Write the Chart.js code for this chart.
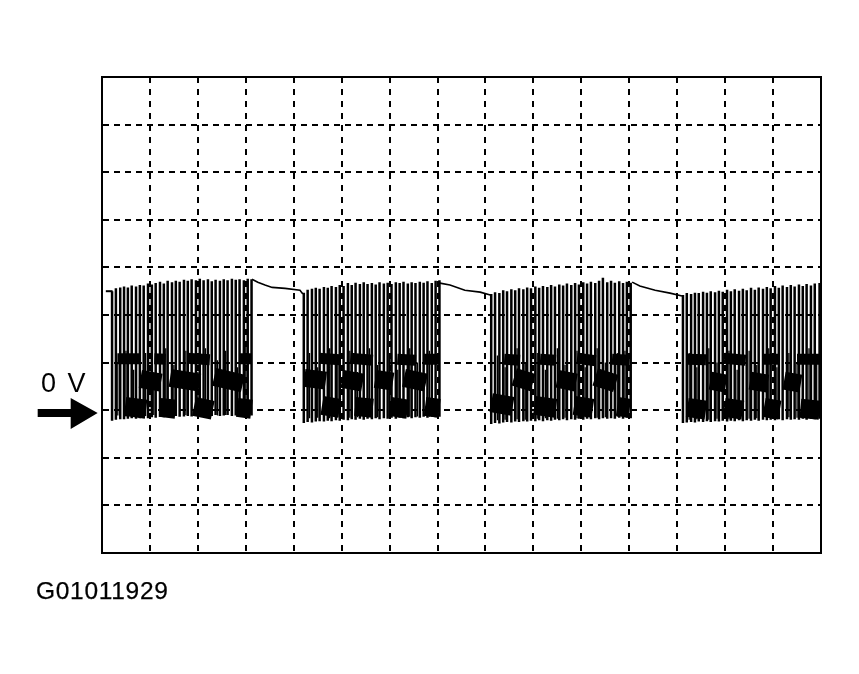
<!DOCTYPE html>
<html><head><meta charset="utf-8">
<style>
html,body{margin:0;padding:0;background:#fff;overflow:hidden}
#wrap{position:relative;width:859px;height:674px}
canvas{position:absolute;left:0;top:0}
.lbl{position:absolute;font-family:"Liberation Sans",Arial,sans-serif;color:#000;white-space:nowrap;line-height:1}
</style>
<script src="https://cdn.jsdelivr.net/npm/chart.js@4"></script>
</head><body>
<div id="wrap">
<canvas id="c" width="859" height="674"></canvas>
<div class="lbl" style="left:41px;top:370px;font-size:27px;letter-spacing:2px">0 V</div>
<div class="lbl" style="left:36px;top:579px;font-size:24.5px;letter-spacing:.7px;-webkit-text-stroke:.25px #000">G01011929</div>
</div>
<script>
// Time in screen divisions, level in volts (1 V per division)
const burst1Time=[0.21,0.29,0.38,0.46,0.54,0.62,0.71,0.79,0.87,0.96,1.04,1.12,1.21,1.29,1.37,1.46,1.54,1.62,1.71,1.79,1.87,1.96,2.04,2.12,2.21,2.29,2.37,2.46,2.54,2.62,2.71,2.79,2.87,2.96,3.04,3.12];
const burst1Top=[2.50,2.56,2.58,2.60,2.58,2.62,2.60,2.63,2.62,2.66,2.64,2.67,2.70,2.66,2.72,2.69,2.72,2.70,2.74,2.72,2.75,2.73,2.76,2.73,2.75,2.71,2.74,2.72,2.75,2.73,2.76,2.74,2.75,2.73,2.76,2.75];
const burst1Low=[-0.22,-0.20,-0.19,-0.19,-0.18,-0.17,-0.18,-0.17,-0.16,-0.17,-0.15,-0.16,-0.14,-0.15,-0.13,-0.14,-0.12,-0.14,-0.13,-0.12,-0.13,-0.11,-0.13,-0.12,-0.11,-0.12,-0.10,-0.12,-0.11,-0.10,-0.12,-0.11,-0.10,-0.11,-0.10,-0.11];
const burst2Time=[4.21,4.29,4.38,4.46,4.54,4.63,4.71,4.79,4.88,4.96,5.04,5.13,5.21,5.29,5.38,5.46,5.54,5.63,5.71,5.79,5.88,5.96,6.04,6.13,6.21,6.29,6.38,6.46,6.54,6.63,6.71,6.79,6.88,6.96,7.04];
const burst2Top=[2.47,2.53,2.55,2.57,2.55,2.59,2.57,2.61,2.59,2.63,2.61,2.67,2.63,2.68,2.65,2.69,2.65,2.67,2.64,2.69,2.66,2.68,2.65,2.69,2.67,2.70,2.66,2.69,2.67,2.70,2.68,2.71,2.67,2.72,2.73];
const burst2Low=[-0.27,-0.25,-0.26,-0.24,-0.23,-0.24,-0.22,-0.23,-0.21,-0.22,-0.20,-0.21,-0.19,-0.20,-0.18,-0.20,-0.18,-0.19,-0.17,-0.19,-0.17,-0.18,-0.16,-0.18,-0.16,-0.17,-0.15,-0.17,-0.15,-0.16,-0.14,-0.16,-0.14,-0.15,-0.14];
const burst3Time=[8.12,8.20,8.29,8.37,8.45,8.54,8.62,8.70,8.79,8.87,8.95,9.04,9.12,9.20,9.29,9.37,9.45,9.54,9.62,9.70,9.79,9.87,9.95,10.04,10.12,10.20,10.29,10.37,10.45,10.54,10.62,10.70,10.79,10.87,10.95,11.03];
const burst3Top=[2.44,2.48,2.46,2.52,2.50,2.54,2.52,2.56,2.54,2.58,2.56,2.60,2.57,2.61,2.59,2.63,2.60,2.64,2.62,2.66,2.63,2.67,2.64,2.69,2.66,2.70,2.67,2.72,2.78,2.69,2.72,2.68,2.71,2.67,2.70,2.68];
const burst3Low=[-0.29,-0.27,-0.28,-0.26,-0.25,-0.26,-0.24,-0.25,-0.23,-0.24,-0.22,-0.23,-0.21,-0.23,-0.21,-0.22,-0.20,-0.21,-0.19,-0.21,-0.19,-0.20,-0.18,-0.20,-0.18,-0.19,-0.17,-0.19,-0.17,-0.18,-0.17,-0.18,-0.16,-0.18,-0.16,-0.17];
const burst4Time=[12.12,12.20,12.29,12.37,12.45,12.54,12.62,12.70,12.79,12.87,12.95,13.04,13.12,13.20,13.29,13.37,13.45,13.54,13.62,13.70,13.79,13.87,13.95,14.04,14.12,14.20,14.29,14.37,14.45,14.54,14.62,14.70,14.79,14.87,14.97];
const burst4Top=[2.42,2.46,2.44,2.47,2.46,2.49,2.47,2.50,2.48,2.51,2.49,2.53,2.50,2.54,2.51,2.55,2.52,2.57,2.53,2.58,2.55,2.59,2.56,2.61,2.57,2.62,2.59,2.63,2.60,2.64,2.61,2.65,2.62,2.66,2.67];
const burst4Low=[-0.27,-0.26,-0.25,-0.26,-0.24,-0.25,-0.23,-0.25,-0.23,-0.24,-0.22,-0.24,-0.22,-0.23,-0.21,-0.23,-0.21,-0.22,-0.20,-0.22,-0.20,-0.21,-0.20,-0.21,-0.19,-0.21,-0.19,-0.20,-0.19,-0.20,-0.18,-0.20,-0.18,-0.19,-0.18];
// shorter inner strokes that darken the lower half of each burst
const innerTime=[0.33,0.50,0.66,0.91,1.08,1.33,1.50,1.75,2.00,2.16,2.41,2.58,2.83,3.00,4.33,4.50,4.75,4.92,5.17,5.33,5.58,5.75,6.00,6.17,6.42,6.58,6.83,8.25,8.41,8.66,8.83,9.08,9.25,9.50,9.66,9.91,10.08,10.33,10.50,10.75,10.91,12.25,12.41,12.66,12.83,13.08,13.25,13.50,13.66,13.91,14.08,14.33,14.50,14.75,14.91];
const innerTop=[1.00,1.25,0.85,1.20,0.70,1.30,0.95,1.25,0.80,1.30,1.05,1.25,0.90,1.35,1.20,0.90,1.30,1.00,1.25,0.80,1.30,0.95,1.20,0.85,1.30,1.00,1.25,1.15,0.90,1.30,1.00,1.20,0.85,1.30,0.95,1.25,0.90,1.30,1.00,1.20,1.25,1.20,0.90,1.30,1.00,1.25,0.85,1.25,0.95,1.30,0.90,1.20,1.00,1.30,1.15];
const innerFloor=[-0.11,-0.13,-0.11,-0.12,-0.10,-0.11,-0.12,-0.10,-0.11,-0.10,-0.11,-0.10,-0.11,-0.10,-0.17,-0.16,-0.17,-0.15,-0.16,-0.15,-0.14,-0.15,-0.14,-0.15,-0.14,-0.13,-0.14,-0.21,-0.20,-0.19,-0.20,-0.18,-0.17,-0.18,-0.16,-0.17,-0.15,-0.16,-0.15,-0.14,-0.15,-0.20,-0.19,-0.20,-0.18,-0.19,-0.17,-0.18,-0.17,-0.16,-0.17,-0.15,-0.16,-0.15,-0.16];
const leadTime=[0.08,0.22];
const leadLevel=[2.50,2.50];
const decayTime=[3.13,3.25,3.40,3.55,3.82,4.13,4.19,4.19,7.05,7.26,7.57,7.89,8.10,8.10,11.06,11.22,11.54,11.85,12.10];
const decayLevel=[2.75,2.69,2.63,2.58,2.56,2.52,2.44,null,2.67,2.63,2.52,2.48,2.42,null,2.69,2.61,2.52,2.46,2.40];
const upperStart=[0.32,1.09,1.78,2.88,4.53,5.18,6.16,6.72,8.39,9.14,9.91,10.64,12.21,12.98,13.81,14.50];
const upperEnd=[0.79,1.33,2.25,3.12,4.96,5.65,6.55,7.04,8.72,9.47,10.30,11.01,12.60,13.43,14.14,14.97];
const upperFrom=[1.08,1.08,1.09,1.08,1.09,1.09,1.07,1.07,1.07,1.07,1.09,1.07,1.07,1.09,1.07,1.07];
const upperTo=[1.08,1.07,1.06,1.08,1.06,1.05,1.05,1.07,1.05,1.05,1.04,1.05,1.06,1.05,1.07,1.07];
const midStart=[0.80,1.42,2.34,4.22,5.01,5.70,6.30,8.60,9.50,10.29,12.69,13.52,14.23];
const midEnd=[1.23,2.04,2.94,4.67,5.44,6.07,6.76,8.99,9.89,10.72,13.02,13.89,14.58];
const midFrom=[0.66,0.68,0.70,0.68,0.66,0.66,0.68,0.70,0.66,0.70,0.62,0.62,0.62];
const midTo=[0.58,0.58,0.56,0.62,0.58,0.60,0.58,0.58,0.58,0.56,0.56,0.56,0.56];
const lowerStart=[0.48,1.21,1.92,2.82,4.59,5.28,6.01,6.74,8.12,9.02,9.85,10.75,12.21,12.98,13.81,14.57];
const lowerEnd=[0.92,1.54,2.31,3.12,4.96,5.65,6.38,7.04,8.57,9.47,10.24,11.01,12.60,13.37,14.14,14.97];
const lowerFrom=[0.08,0.06,0.08,0.06,0.10,0.08,0.08,0.08,0.16,0.10,0.10,0.08,0.06,0.06,0.06,0.04];
const lowerTo=[0.02,0.02,0.00,0.02,0.04,0.04,0.02,0.04,0.08,0.04,0.04,0.04,0.00,0.00,0.00,0.00];
const arrowTipTime=[-0.09];
const arrowTipLevel=[-0.06];

const zip=(xs,ys)=>xs.map((x,i)=>({x:x,y:ys[i]}));
const spikes=(t,top,low)=>t.flatMap((x,i)=>[{x:x,y:low[i]},{x:x,y:top[i]},{x:x,y:null}]);
const pieces=(a,b,f,g)=>a.flatMap((x,i)=>[{x:x,y:f[i]},{x:b[i],y:g[i]},{x:b[i],y:null}]);
const trace=(data,w)=>({data:data,showLine:true,pointRadius:0,borderColor:'#000',backgroundColor:'#000',borderWidth:w,tension:0,spanGaps:false,borderCapStyle:'butt',borderJoinStyle:'miter',clip:false});

const arrowPlugin={id:'arrow',afterDraw(chart){
  const c=chart.ctx,px=chart.scales.x.getPixelForValue(arrowTipTime[0]),py=chart.scales.y.getPixelForValue(arrowTipLevel[0]);
  c.save();c.fillStyle='#000';c.beginPath();
  c.moveTo(px,py);c.lineTo(px-27,py-15);c.lineTo(px-27,py-4);c.lineTo(px-60,py-4);
  c.lineTo(px-60,py+4);c.lineTo(px-27,py+4);c.lineTo(px-27,py+16);c.closePath();c.fill();c.restore();
}};

new Chart(document.getElementById('c'),{
 type:'scatter',
 plugins:[arrowPlugin],
 data:{datasets:[
  trace(zip(leadTime,leadLevel),2),
  trace(zip(decayTime,decayLevel),1.6),
  trace(spikes(burst1Time,burst1Top,burst1Low),2.5),
  trace(spikes(burst2Time,burst2Top,burst2Low),2.5),
  trace(spikes(burst3Time,burst3Top,burst3Low),2.5),
  trace(spikes(burst4Time,burst4Top,burst4Low),2.5),
  trace(spikes(innerTime,innerTop,innerFloor),1.3),
  trace(pieces(upperStart,upperEnd,upperFrom,upperTo),11),
  trace(pieces(midStart,midEnd,midFrom,midTo),18),
  trace(pieces(lowerStart,lowerEnd,lowerFrom,lowerTo),19)
 ]},
 options:{
  responsive:false,animation:false,devicePixelRatio:1,
  layout:{padding:{left:102,top:77,right:38,bottom:121}},
  plugins:{legend:{display:false},tooltip:{enabled:false},title:{display:false}},
  scales:{
   x:{type:'linear',min:0,max:15,position:'bottom',ticks:{display:false,stepSize:1},
      grid:{display:true,drawTicks:false,color:'#000',lineWidth:2},
      border:{display:true,color:'#000',width:2,dash:[6,6]}},
   y:{type:'linear',min:-3,max:7,position:'left',ticks:{display:false,stepSize:1},
      grid:{display:true,drawTicks:false,color:'#000',lineWidth:2},
      border:{display:true,color:'#000',width:2,dash:[6,5]}},
   xTop:{type:'linear',axis:'x',min:0,max:15,position:'top',ticks:{display:false},grid:{display:false,drawTicks:false},border:{display:true,color:'#000',width:2}},
   yRight:{type:'linear',axis:'y',min:-3,max:7,position:'right',ticks:{display:false},grid:{display:false,drawTicks:false},border:{display:true,color:'#000',width:2}}
  }
 }
});
</script>
</body></html>
